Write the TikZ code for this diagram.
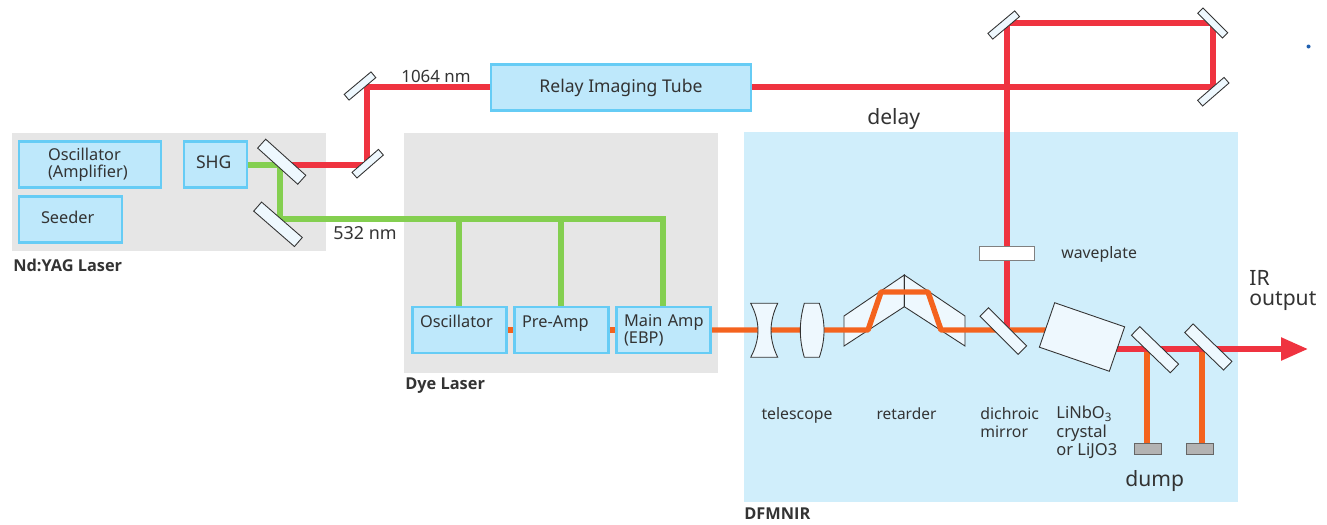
\documentclass[tikz,border=0pt]{standalone}
\usepackage{fontspec}
\setmainfont{Noto Sans}
\newfontfamily\boldlabel{Open Sans}
\usetikzlibrary{arrows.meta, positioning}
\definecolor{panelGray}{HTML}{E6E6E6}
\definecolor{panelBlue}{HTML}{D0EEFB}
\definecolor{boxFill}{HTML}{BEE8FB}
\definecolor{boxLine}{HTML}{66CCF5}
\definecolor{glassFill}{HTML}{EEF8FE}
\definecolor{beamRedC}{HTML}{EF3340}
\definecolor{beamOrangeC}{HTML}{F4631E}
\definecolor{beamGreenC}{HTML}{84CF50}
\definecolor{textDark}{HTML}{333333}
\definecolor{dumpGray}{HTML}{B3B3B3}
\definecolor{dotBlue}{HTML}{2060B0}
\pgfdeclarelayer{panel}
\pgfdeclarelayer{beam}
\pgfsetlayers{panel,beam,main}
\tikzset{
  panelG/.style={rectangle, fill=panelGray, draw=none, anchor=north west, inner sep=0pt},
  panelB/.style={rectangle, fill=panelBlue, draw=none, anchor=north west, inner sep=0pt},
  boxL/.style={rectangle, draw=boxLine, fill=boxFill, line width=1.3pt, inner sep=0pt,
               minimum height=0.92cm, text=textDark, align=left},
  boxD/.style={boxL, minimum width=1.88cm, text width=1.58cm},
  mirrorS/.style={rectangle, draw=black!80, fill=glassFill, line width=0.5pt, inner sep=0pt,
                  minimum width=0.7cm, minimum height=0.15cm},
  mirrorL/.style={mirrorS, minimum width=1.08cm, minimum height=0.24cm},
  beamR/.style={draw=beamRedC, line width=3.1pt},
  beamO/.style={draw=beamOrangeC, line width=3.1pt, line join=round},
  beamG/.style={draw=beamGreenC, line width=3.1pt},
  glass/.style={draw=black!80, fill=glassFill, line width=0.5pt},
  dumpBox/.style={rectangle, draw=black!60, fill=dumpGray, line width=0.5pt, inner sep=0pt,
                  minimum width=0.54cm, minimum height=0.21cm},
  lbl/.style={text=textDark, inner sep=0pt, align=left},
  lblMid/.style={lbl, font=\fontsize{10.2}{11}\selectfont},
  lblBig/.style={lbl, font=\fontsize{12}{11.4}\selectfont},
  lblBold/.style={lbl, font=\boldlabel\bfseries\fontsize{9.3}{10}\selectfont},
}
\begin{document}
\begin{tikzpicture}[x=0.02cm, y=-0.02cm, font=\fontsize{9.3}{9.7}\selectfont]
    \useasboundingbox (0,0) rectangle (1327,524);

    % optics boxes
    \node[boxL, minimum width=2.84cm, text width=1.68cm] (osc) at (90,164.5) {Oscillator\\(Amplifier)};
    \node[boxL, minimum width=2.06cm, text width=1.18cm, text depth=0.08cm] (seeder) at (70.5,219.5) {Seeder};
    \node[boxL, minimum width=1.26cm, text width=0.78cm, text depth=0.08cm, font=\fontsize{10}{11}\selectfont] (shg) at (215.5,164.5) {SHG};
    \node[boxL, minimum width=5.2cm, text height=0.28cm, font=\fontsize{10}{11}\selectfont] (relay) at (621,87.5) {Relay Imaging Tube};
    \node[boxD] (dyeOsc) at (459.5,330) {Oscillator\\~};
    \node[boxD, right=0.115cm of dyeOsc] (dyePre) {Pre-Amp\\~};
    \node[boxD, right=0.115cm of dyePre] (dyeMain) {\mbox{Main Amp}\\(EBP)};

    % mirrors
    \node[mirrorL, rotate=-42] (mSplit) at (281.7,161.7) {};
    \node[mirrorL, rotate=-41] (mGreen) at (278,224.3) {};
    \node[mirrorS, rotate=41] (mRedA) at (367.7,163.7) {};
    \node[mirrorS, rotate=40] (mRedB) at (360,86) {};
    \node[mirrorS, rotate=40] (mDelayA) at (1003.7,25) {};
    \node[mirrorS, rotate=-45] (mDelayB) at (1212.7,23) {};
    \node[mirrorS, rotate=41] (mDelayC) at (1213.3,91.7) {};
    \node[mirrorL, rotate=-45] (mDichroic) at (1003.3,331) {};
    \node[mirrorL, rotate=-44] (mDumpA) at (1155,349.7) {};
    \node[mirrorL, rotate=-44] (mDumpB) at (1208.3,347) {};
    \node[glass, rectangle, inner sep=0pt, minimum width=1.48cm, minimum height=0.94cm,
          rotate=-19] (crystal) at (1082,337) {};
    \node[rectangle, draw=black!50, fill=white, line width=0.5pt, inner sep=0pt,
          minimum width=1.1cm, minimum height=0.27cm] (waveplate) at (1006.5,253.5) {};
    \node[dumpBox] (dumpA) at (1148,449) {};
    \node[dumpBox] (dumpB) at (1200,449) {};

    % lenses
    \draw[glass] (750.7,303.3) -- (777.7,303.3) .. controls (768.8,322) and (768.8,339) .. (777.7,357.3)
      -- (750.7,357.3) .. controls (760.4,339) and (760.4,322) .. (750.7,303.3) -- cycle;
    \draw[glass] (804.3,303.3) -- (819.3,303.3) .. controls (825.6,322) and (825.6,339) .. (819.3,357.3)
      -- (804.3,357.3) .. controls (799,339) and (799,322) .. (804.3,303.3) -- cycle;

    % bends of the beams
    \coordinate (bendSplit) at (280,165);
    \coordinate (bendGreen) at (280,219);
    \coordinate (tapA) at (459,219);
    \coordinate (tapB) at (561,219);
    \coordinate (tapC) at (663,219);
    \coordinate (bendA) at (367,165);
    \coordinate (bendB) at (367,87);
    \coordinate (bendC) at (1213,87);
    \coordinate (bendD) at (1213,23);
    \coordinate (bendE) at (1007,23);
    \coordinate (bendF) at (1007,330);
    \coordinate (retIn) at (868,330);
    \coordinate (retA) at (881,292);
    \coordinate (retB) at (928,292);
    \coordinate (retOut) at (941,330);
    \coordinate (crystalIn) at (1060,330);
    \coordinate (crystalOut) at (1100,349);
    \coordinate (tapDumpA) at (1147,349);
    \coordinate (tapDumpB) at (1202,349);
    \coordinate (irEnd) at (1308,349);

    \begin{pgfonlayer}{panel}
      \node[panelG, minimum width=6.28cm, minimum height=2.36cm] (yagPanel) at (12,133) {};
      \node[panelG, minimum width=6.28cm, minimum height=4.8cm] (dyePanel) at (404,133) {};
      \node[panelB, minimum width=9.88cm, minimum height=7.4cm] (dfmPanel) at (744,132) {};
    \end{pgfonlayer}

    \begin{pgfonlayer}{beam}
      \draw[glass] (844,316) -- (904.3,275) -- (904.3,306.7) -- (844,346) -- cycle;
      \draw[glass] (904.3,275) -- (965,316) -- (965,346) -- (904.3,306.7) -- cycle;
      \draw[beamG] (shg.east |- bendSplit) -- (bendSplit) -- (bendGreen) -- (tapC) -- (tapC |- dyeMain.north);
      \draw[beamG] (tapA) -- (tapA |- dyeOsc.north);
      \draw[beamG] (tapB) -- (tapB |- dyePre.north);
      \draw[beamR] (bendSplit) -- (bendA) -- (bendB) -- (relay.west |- bendB);
      \draw[beamR] (relay.east |- bendC) -- (bendC) -- (bendD) -- (bendE) -- (bendF);
      \draw[beamO] (dyeOsc.east) -- (dyePre.west);
      \draw[beamO] (dyePre.east) -- (dyeMain.west);
      \draw[beamO] (dyeMain.east) -- (retIn) -- (retA) -- (retB) -- (retOut) -- (crystalIn);
      \draw[beamO] (tapDumpA) -- (tapDumpA |- dumpA.north);
      \draw[beamO] (tapDumpB) -- (tapDumpB |- dumpB.north);
      \draw[beamR, -{Triangle[length=0.54cm, width=0.44cm]}] (crystalOut) -- (irEnd);
    \end{pgfonlayer}

    % labels
    \node[lbl, font=\fontsize{9.6}{10}\selectfont, anchor=west] (lb1064) at (401,76) {1064 nm};
    \node[lblMid, anchor=west] (lb532) at (333,233) {532 nm};
    \node[lblBold, anchor=west] (lbYag) at (13,265) {Nd:YAG Laser};
    \node[lblBold, anchor=west] (lbDye) at (405,386) {Dye Laser};
    \node[lblBold, anchor=west] (lbDfm) at (744,514) {DFMNIR};
    \node[lblBig, anchor=west] (lbDelay) at (867,119) {delay};
    \node[lbl, font=\fontsize{9}{9.7}\selectfont, anchor=west] (lbWave) at (1061,254) {waveplate};
    \node[lbl, font=\fontsize{9}{9.7}\selectfont, anchor=center] (lbTele) at (797,415) {telescope};
    \node[lbl, font=\fontsize{8.8}{9.7}\selectfont, anchor=center] (lbRet) at (906.5,414) {retarder};
    \node[lbl, font=\fontsize{9}{10.3}\selectfont, anchor=north west] (lbDich) at (980,407) {dichroic\\mirror};
    \node[lbl, font=\fontsize{9.4}{10.3}\selectfont, anchor=north west] (lbCrys) at (1056,406) {LiNbO\textsubscript{3}\\crystal\\or LiJO3};
    \node[lblBig, anchor=west] (lbDump) at (1125,481) {dump};
    \node[lblBig, anchor=north west] (lbIr) at (1249,270) {IR\\output};
    \node[circle, fill=dotBlue, inner sep=0pt, minimum size=0.08cm] (dot) at (1308.5,46.5) {};
\end{tikzpicture}
\end{document}
